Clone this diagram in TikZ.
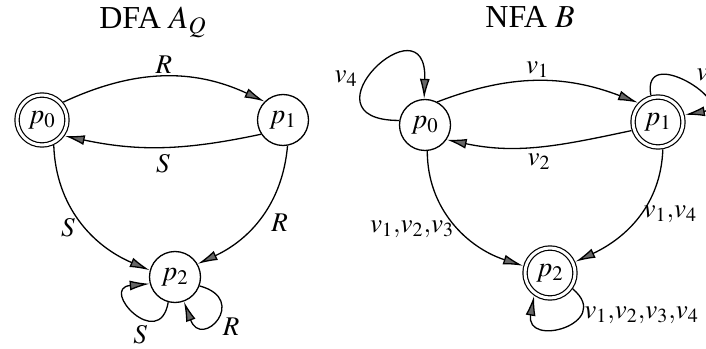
\documentclass[tikz,border=0pt]{standalone}
\usepackage{mathptmx}
\usepackage{fontspec}
\setmainfont{Liberation Serif}
\usetikzlibrary{arrows.meta}
\begin{document}
\begin{tikzpicture}[x=0.5pt,y=0.5pt,
	state/.style={ circle, draw, line width=0.65pt, inner sep=0pt, minimum size=25.5pt },
	accept/.style={ circle, draw, line width=0.6pt, double, double distance=1.5pt, inner sep=0pt, minimum size=25pt, outer sep=1.4pt },
	trans/.style={ line width=0.65pt, -{Latex[length=10pt,width=5pt,fill=black!60]} },
	lbl/.style={ font=\fontsize{14}{16}\selectfont, inner sep=1.5pt },
	elbl/.style={ font=\fontsize{13.5}{16}\selectfont, inner sep=1.5pt },
	title/.style={ font=\fontsize{16}{18}\selectfont }
]
\useasboundingbox (0,0) rectangle (706,348);

\node at (153,326) (dfa) [title] {DFA $A_Q$};
\node at (42,228) (a0) [accept,lbl] {$p_0$};
\node at (283,228) (a1) [state,lbl] {$p_1$};
\node at (175,71) (a2) [state,lbl] {$p_2$};
\draw[trans] (a0.40) to[out=25,in=155] node[elbl,above] {$R$} (a1.135);
\draw[trans] (a1.213) to[out=192,in=-12] node[elbl,below=2pt] {$S$} (a0.-35);
\draw[trans] (a0.-65) to[out=-88,in=157] node[elbl,left=4pt,pos=0.55] {$S$} (a2.165);
\draw[trans] (a1.-80) to[out=-95,in=25] node[elbl,right=6pt,pos=0.55] {$R$} (a2.30);
\draw[trans] (a2.-105) to[out=-100,in=185,looseness=5] node[elbl,below left,pos=0.3] {$S$} (a2.195);
\draw[trans] (a2.-20) to[out=-15,in=-70,looseness=6] node[elbl,below right,pos=0.45] {$R$} (a2.-70);

\node at (530,331) (nfa) [title] {NFA $B$};
\node at (425,223) (b0) [state,lbl] {$p_0$};
\node at (658,226) (b1) [accept,lbl] {$p_1$};
\node at (550,75) (b2) [accept,lbl] {$p_2$};
\draw[trans] (b0.62) to[out=21,in=159] node[elbl,above] {$v_1$} (b1.136);
\draw[trans] (b1.198) to[out=192,in=-12] node[elbl,below=2pt] {$v_2$} (b0.-34);
\draw[trans] (b0.-85) to[out=-90,in=162] node[elbl,left=1pt,pos=0.55] {$v_1{,}v_2{,}v_3$} (b2.165);
\draw[trans] (b1.-80) to[out=-92,in=25] node[elbl,right=0pt,pos=0.47] {$v_1{,}v_4$} (b2.24);
\draw[trans] (b0.170) to[out=180,in=88,looseness=8] node[elbl,above left,pos=0.35] {$v_4$} (b0.92);
\draw[trans] (b1.105) to[out=100,in=10,looseness=3.5] node[elbl,above right,pos=0.6] {$v_3$} (b1.15);
\draw[trans] (b2.-35) to[out=-40,in=-100,looseness=3.5] node[elbl,right=0pt,pos=0.3] {$v_1{,}v_2{,}v_3{,}v_4$} (b2.-125);

\end{tikzpicture}
\end{document}
